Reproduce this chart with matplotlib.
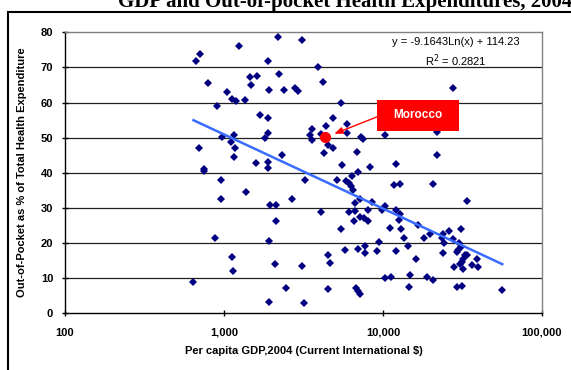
import numpy as np
import matplotlib
matplotlib.use('Agg')
import matplotlib.pyplot as plt
from matplotlib.patches import Rectangle
from matplotlib.ticker import FixedLocator, NullLocator, FuncFormatter

# per capita GDP (current international $) and out-of-pocket share (%)
gdp = [2177, 3107, 1237, 703, 671, 1891, 3917, 1463, 1604, 2218,
       796, 1486, 1919, 2374, 2785, 2933, 4196, 1044, 1122, 1189,
       1349, 907, 1690, 1891, 5420, 4866, 971, 1156, 1102, 1891,
       1819, 4385, 3577, 5961, 3500, 3603, 4055, 5980, 10300, 27680,
       21780, 693, 1173, 1156, 1600, 1891, 1891, 2316, 752, 752,
       4529, 4831, 4256, 7305, 7516, 6887, 5559, 8283, 12020, 21780,
       958, 1368, 958, 1946, 2123, 2666, 2123, 882, 1919, 1122,
       1140, 2093, 643, 2443, 1919, 3107, 3245, 5117, 5848, 6085,
       6265, 6429, 6998, 6471, 6699, 7163, 8471, 10300, 11780, 12880,
       4074, 6138, 6699, 7998, 9790, 12070, 12790, 6577, 7163, 7603,
       8018, 5420, 10990, 12980, 12560, 13620, 14300, 9394, 7744, 6998,
       7673, 9162, 12120, 5741, 4508, 4645, 10370, 11300, 14790, 14520,
       4508, 6761, 6998, 7163, 3199, 20540, 33760, 16670, 18110, 19770,
       23940, 25890, 30970, 23500, 24100, 27680, 30200, 30970, 29650, 29090,
       32800, 33970, 39170, 23940, 16070, 32000, 31410, 30500, 28080, 31720,
       36140, 39400, 18840, 20720, 29330, 31410, 56240]
oop = [78.8, 77.7, 76.2, 73.9, 71.9, 71.9, 70.2, 67.3, 67.6, 68.1,
       65.5, 64.9, 63.5, 63.5, 64.2, 63.2, 65.8, 62.9, 61.0, 60.4,
       60.6, 58.9, 56.5, 55.7, 59.8, 55.7, 50.3, 50.8, 48.8, 51.3,
       49.8, 53.4, 52.4, 53.8, 50.8, 49.3, 51.0, 51.3, 50.8, 64.1,
       51.7, 47.0, 47.0, 44.4, 42.9, 43.2, 41.5, 45.2, 41.1, 40.4,
       47.9, 47.0, 45.7, 50.3, 49.5, 46.0, 42.1, 41.6, 42.6, 45.2,
       37.9, 34.4, 32.5, 30.7, 30.7, 32.5, 26.4, 21.4, 20.6, 15.9,
       12.1, 13.9, 8.9, 7.3, 3.1, 13.4, 37.9, 37.9, 37.8, 37.0,
       36.3, 39.2, 40.3, 35.0, 31.3, 32.5, 31.7, 30.5, 36.6, 36.8,
       28.9, 28.8, 29.0, 29.5, 29.5, 29.4, 28.3, 26.3, 27.3, 27.1,
       26.4, 24.1, 24.4, 24.1, 26.6, 21.4, 19.2, 20.3, 19.1, 18.3,
       17.2, 17.7, 17.7, 18.0, 16.5, 14.4, 10.1, 10.3, 10.8, 7.5,
       7.0, 7.1, 6.3, 5.5, 2.8, 36.8, 31.9, 25.1, 21.4, 22.6,
       22.6, 23.5, 24.1, 21.4, 20.1, 21.2, 20.1, 18.8, 18.0, 17.5,
       16.7, 16.7, 15.5, 17.1, 15.4, 15.5, 14.7, 14.0, 13.3, 12.5,
       13.7, 13.1, 10.4, 9.5, 7.6, 7.8, 6.6]

morocco_gdp = 4335
morocco_oop = 50.1

# log trend shown on the chart
fit_a = -9.1643
fit_b = 114.23
fit_r2 = 0.2821

x_ticks = [100, 1000, 10000, 100000]
y_ticks = [0, 10, 20, 30, 40, 50, 60, 70, 80]

plt.rcParams['font.family'] = ['Liberation Sans', 'DejaVu Sans']

fig = plt.figure(figsize=(5.71, 3.70), dpi=100)
fig.patch.set_facecolor('white')

# chart frame (cut off on the right and bottom)
fig.patches.append(Rectangle((0.014, -0.1), 1.2, 1.0676, transform=fig.transFigure,
                             fill=False, edgecolor='black', lw=1.5, clip_on=False))

# title, mostly cut off at the top like in the source
fig.text(0.605, 0.981, 'GDP and Out-of-pocket Health Expenditures, 2004',
         ha='center', va='baseline', fontsize=15, fontweight='bold',
         family=['Liberation Serif', 'DejaVu Serif'])

ax = fig.add_axes([0.1138, 0.1532, 0.8354, 0.7595])
ax.set_xscale('log')
ax.set_xlim(100, 100000)
ax.set_ylim(0, 80)

for y in y_ticks[1:-1]:
    ax.axhline(y, color='#202020', lw=0.9, zorder=1)

ax.spines['top'].set_color('#808080')
ax.spines['right'].set_color('#808080')
ax.spines['left'].set_color('black')
ax.spines['bottom'].set_color('black')
for s in ax.spines.values():
    s.set_linewidth(1.0)

ax.xaxis.set_major_locator(FixedLocator(x_ticks))
ax.xaxis.set_minor_locator(NullLocator())
ax.xaxis.set_major_formatter(FuncFormatter(lambda v, p: '{:,.0f}'.format(v)))
ax.yaxis.set_major_locator(FixedLocator(y_ticks))
ax.tick_params(axis='both', direction='inout', length=5, width=1, color='black',
               labelsize=8)
ax.tick_params(axis='x', pad=8)
ax.tick_params(axis='y', pad=6)
for lab in ax.get_xticklabels() + ax.get_yticklabels():
    lab.set_fontweight('bold')

ax.plot(gdp, oop, linestyle='none', marker='D', markersize=4.4,
        color='#000080', markeredgewidth=0, zorder=3)

xs = np.logspace(np.log10(min(gdp)), np.log10(max(gdp)), 100)
ax.plot(xs, fit_a * np.log(xs) + fit_b, color='#3a6cff', lw=1.8, zorder=4)

ax.plot([morocco_gdp], [morocco_oop], marker='o', markersize=7, color='red',
        linestyle='none', zorder=5)

ax.text(0.8197, 0.9665, 'y = -9.1643Ln(x) + 114.23', transform=ax.transAxes,
        ha='center', va='center', fontsize=8)
ax.text(0.8197, 0.899, 'R$^2$ = %.4f' % fit_r2, transform=ax.transAxes,
        ha='center', va='center', fontsize=8)

ax.add_patch(Rectangle((0.6535, 0.650), 0.1725, 0.109, transform=ax.transAxes,
                       facecolor='#ff0000', edgecolor='none', zorder=6))
ax.text(0.7398, 0.7045, 'Morocco', transform=ax.transAxes, ha='center', va='center',
        color='white', fontsize=8.5, fontweight='bold', zorder=7)
ax.annotate('', xy=(morocco_gdp, morocco_oop), xycoords='data',
            xytext=(0.6535, 0.6986), textcoords='axes fraction',
            arrowprops=dict(arrowstyle='-|>,head_length=0.5,head_width=0.2',
                            color='red', lw=1.0, shrinkA=0, shrinkB=7), zorder=6)

fig.text(0.5315, 0.052, 'Per capita GDP,2004 (Current International $)',
         ha='center', va='center', fontsize=8, fontweight='bold')
fig.text(0.0385, 0.535, 'Out-of-Pocket as % of Total Health Expenditure',
         ha='center', va='center', rotation=90, fontsize=8, fontweight='bold')

fig.savefig('out.png', dpi=100)
